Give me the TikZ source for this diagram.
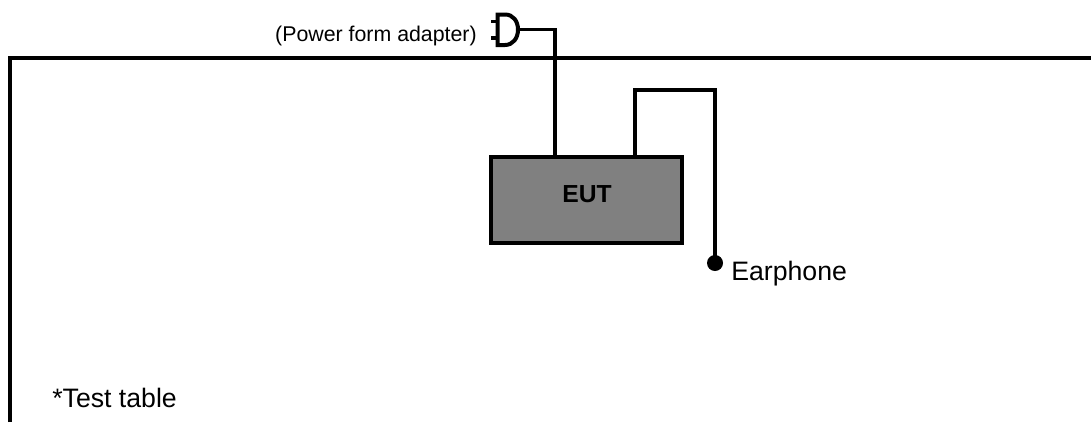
\documentclass[tikz,border=0pt]{standalone}
\usepackage{fontspec}
\setmainfont{Liberation Sans}
\tikzset{
  px/.style={x=0.75pt,y=-0.75pt},
  wire/.style={draw=black,line width=3pt,line join=miter},
  thin wire/.style={draw=black,line width=2.5pt,line join=miter},
  eutbox/.style={draw=black,fill=black!50,line width=3pt,minimum width=143.25pt,minimum height=64.5pt,inner sep=0pt},
  lbl/.style={inner sep=0pt,text=black},
  dot/.style={circle,fill=black,minimum size=12pt,inner sep=0pt}
}
\begin{document}
\begin{tikzpicture}[px]
\useasboundingbox (0,0) rectangle (1091,422);
% test table
\coordinate (tl) at (10,422);
\coordinate (tc) at (10,58);
\coordinate (tr) at (1091,58);
\draw[wire,line width=3.5pt] (tl) -- (tc) -- (tr);
% EUT
\node[eutbox] (eut) at (586.5,200) {};
\node[lbl,font=\bfseries\fontsize{18.5}{20}\selectfont] (eutl) at (587,194) {EUT};
% plug
\coordinate (pa) at (497.5,14.5);
\coordinate (pb) at (497.5,45);
\coordinate (pout) at (518,29.7);
\draw[wire] (pa) -- (505,14.5) .. controls (513,14.5) and (518,21) .. (pout) .. controls (518,38) and (513,45) .. (505,45) -- (pb) -- cycle;
\coordinate (p1) at (491,21.7);
\coordinate (p1e) at (497.5,21.7);
\coordinate (p2) at (491,38);
\coordinate (p2e) at (497.5,38);
\draw[thin wire] (p1) -- (p1e);
\draw[thin wire] (p2) -- (p2e);
% power wire
\coordinate (pc) at (555,29.7);
\coordinate (pd) at (555,156);
\draw[thin wire] (pout) -- (pc) -- (pd);
% earphone
\coordinate (e1) at (635,156);
\coordinate (e2) at (635,89.5);
\coordinate (e3) at (715,89.5);
\node[dot] (ear) at (715,263) {};
\draw[wire] (e1) -- (e2) -- (e3) -- (ear.center);
% labels
\node[lbl,anchor=east,font=\fontsize{16}{18}\selectfont] (padapter) at (477,36) {(Power form adapter)};
\node[lbl,anchor=west,font=\fontsize{20}{22}\selectfont] (earl) at (731,274) {Earphone};
\node[lbl,anchor=west,font=\fontsize{20}{22}\selectfont] (tt) at (52,398) {*Test table};
\end{tikzpicture}
\end{document}
